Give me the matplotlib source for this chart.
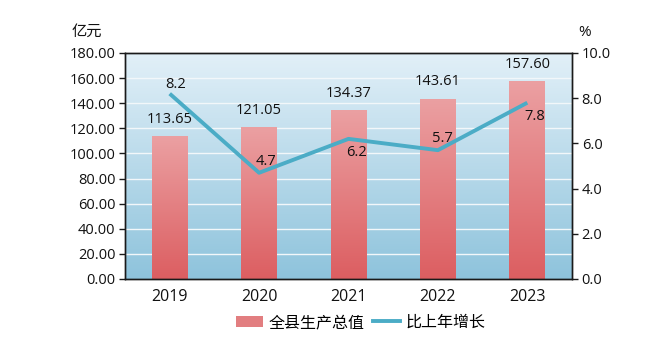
import numpy as np
import matplotlib
matplotlib.use("Agg")
import matplotlib.pyplot as plt
from matplotlib.colors import LinearSegmentedColormap
from matplotlib.lines import Line2D
from matplotlib.patches import Patch

plt.rcParams['font.family'] = ['Open Sans', 'Noto Sans CJK SC', 'DejaVu Sans']

years = ['2019', '2020', '2021', '2022', '2023']
gdp = [113.65, 121.05, 134.37, 143.61, 157.60]
growth = [8.2, 4.7, 6.2, 5.7, 7.8]
left_ticks = [0, 20, 40, 60, 80, 100, 120, 140, 160, 180]
right_ticks = [0, 2, 4, 6, 8, 10]

fig = plt.figure(figsize=(6.61, 3.48), dpi=100)
ax = fig.add_axes([125/661, 1-279/348, 447/661, 226/348])
ax2 = ax.twinx()

x = np.arange(len(years))
ax.set_xlim(-0.5, len(years)-0.5)
ax.set_ylim(0, 180)
ax2.set_ylim(0, 10)

# background gradient
bg = LinearSegmentedColormap.from_list('bg', ['#8ec3dc', '#e2f0f8'])
grad = np.linspace(0, 1, 256).reshape(-1, 1)
ax.imshow(grad, cmap=bg, aspect='auto', extent=[0, 1, 0, 1], origin='lower',
          transform=ax.transAxes, zorder=0)

# gridlines
for t in left_ticks[1:-1]:
    ax.axhline(t, color='#f2f7fa', lw=1.0, zorder=1)

bars = ax.bar(x, gdp, width=0.4, color='#e07476', zorder=2)
barcm = LinearSegmentedColormap.from_list('bar', ['#dc5e61', '#eba0a2'])
for b in bars:
    x0, y0 = b.get_x(), b.get_y()
    im = ax.imshow(grad, cmap=barcm, aspect='auto',
                   extent=[x0, x0 + b.get_width(), y0, y0 + b.get_height()],
                   origin='lower', zorder=2.5)
    im.set_clip_path(b)
ax.set_xlim(-0.5, len(years)-0.5)
ax.set_ylim(0, 180)

TXT = '#111111'
for xi, v in zip(x, gdp):
    ax.text(xi, v + 13.5, f'{v:.2f}', ha='center', va='center', fontsize=10.5,
            color=TXT, zorder=5)

ax2.plot(x, growth, color='#4bacc6', lw=2.8, zorder=4, solid_capstyle='butt')
offsets = [(0.07, 0.42), (0.08, 0.5), (0.09, -0.62), (0.05, 0.53), (0.08, -0.62)]
for xi, v, (dx, dy) in zip(x, growth, offsets):
    ax2.text(xi + dx, v + dy, f'{v:.1f}', ha='center', va='center', fontsize=10.5,
             color=TXT, zorder=5)

ax.set_xticks(x)
ax.set_xticklabels(years, fontsize=11.5, color=TXT)
ax.set_yticks(left_ticks)
ax.set_yticklabels([f'{t:.2f}' for t in left_ticks], fontsize=10.5, color=TXT)
ax2.set_yticks(right_ticks)
ax2.set_yticklabels([f'{t:.1f}' for t in right_ticks], fontsize=10.5, color=TXT)
ax.tick_params(axis='x', length=0, pad=7)
ax.tick_params(axis='y', length=4, width=1, color='#1a1a1a', pad=3)
ax2.tick_params(axis='y', length=4, width=1, color='#1a1a1a', pad=3)
for a in (ax, ax2):
    for s in a.spines.values():
        s.set_color('#1a1a1a')
        s.set_linewidth(1.0)
ax.set_zorder(ax2.get_zorder() - 1)
ax2.patch.set_visible(False)
ax.patch.set_visible(False)

fig.text(72/661, 1-32/348, '亿元', fontsize=11, ha='left', va='center', color=TXT)
fig.text(578/661, 1-33/348, '%', fontsize=11, ha='left', va='center', color=TXT)

handles = [Patch(facecolor='#e27e80', edgecolor='none'),
           Line2D([0], [0], color='#4bacc6', lw=2.8)]
fig.legend(handles, ['全县生产总值', '比上年增长'], loc='center',
           bbox_to_anchor=(361/661, 1-323/348), ncol=2, frameon=False,
           fontsize=11.5, handlelength=1.7, handleheight=0.75, columnspacing=0.5,
           handletextpad=0.35)

fig.savefig('out.png', dpi=100)
